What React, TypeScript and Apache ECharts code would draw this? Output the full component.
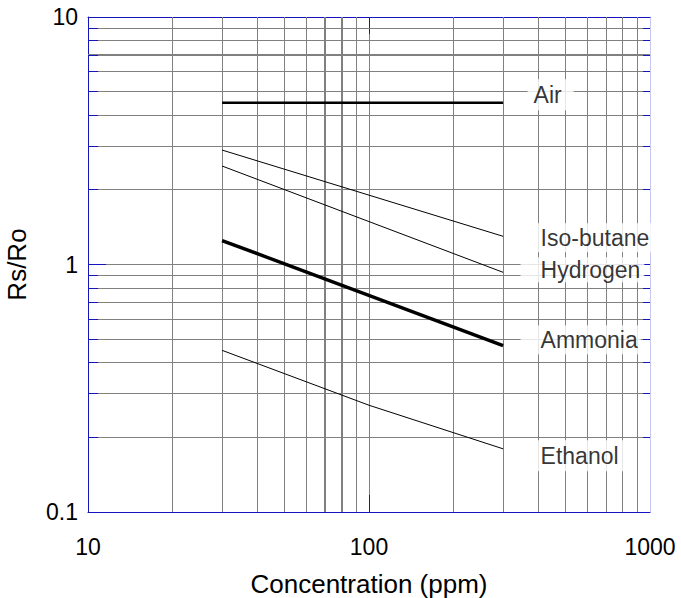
import React, { useEffect, useRef } from 'react';
import * as echarts from 'echarts';

// ---- data ----
const concentration = [30, 300];
const airValues = [4.5, 4.5];
const isoButaneValues = [2.9, 1.3];
const hydrogenValues = [2.5, 0.93];
const ammoniaValues = [1.25, 0.47];
const ethanolConcentration = [30, 100, 300];
const ethanolValues = [0.45, 0.27, 0.18];

const xRange = [10, 1000];
const yRange = [0.1, 10];
const xInnerMajor = [100];
const xMinor = [20, 30, 40, 50, 60, 70, 80, 90, 200, 300, 400, 500, 600, 700, 800, 900];
const yInnerMajor = [1];
const yMinor = [0.2, 0.3, 0.4, 0.5, 0.6, 0.7, 0.8, 0.9, 2, 3, 4, 5, 6, 7, 8, 9];
const heavyX = [70, 80];
const heavyY = [7];

const FONT = 'Liberation Sans, Arial, sans-serif';
const GRID = '#808080';
const BLUE = '#1414c0';

const fmt = (v: number) => String(parseFloat(Number(v).toPrecision(6)));

function crisp(p: number, w: number) {
  return w % 2 === 1 ? Math.round(p - 0.5) + 0.5 : Math.round(p);
}

function vGrid(tickLen: number) {
  return (params: any, api: any) => {
    const v = api.value(0);
    const px = api.coord([v, yRange[0]])[0];
    const cs = params.coordSys;
    const w = heavyX.includes(v) ? 2 : 1;
    const x = crisp(px, w);
    const children: any[] = [
      { type: 'line', shape: { x1: x, y1: cs.y, x2: x, y2: cs.y + cs.height }, style: { stroke: GRID, lineWidth: w, fill: null } },
    ];
    if (tickLen > 0) {
      children.push({ type: 'line', shape: { x1: x, y1: cs.y + cs.height, x2: x, y2: cs.y + cs.height - tickLen }, style: { stroke: BLUE, lineWidth: 1, fill: null } });
      children.push({ type: 'line', shape: { x1: x, y1: cs.y, x2: x, y2: cs.y + tickLen }, style: { stroke: BLUE, lineWidth: 1, fill: null } });
    }
    return { type: 'group', children };
  };
}

function hGrid(leftLen: number, rightLen: number) {
  return (params: any, api: any) => {
    const v = api.value(1);
    const py = api.coord([xRange[0], v])[1];
    const cs = params.coordSys;
    const w = heavyY.some((h) => Math.abs(h - v) < 1e-9) ? 2 : 1;
    const y = crisp(py, w);
    const yt = crisp(py, 1);
    return {
      type: 'group',
      children: [
        { type: 'line', shape: { x1: cs.x, y1: y, x2: cs.x + cs.width, y2: y }, style: { stroke: GRID, lineWidth: w, fill: null } },
        { type: 'line', shape: { x1: cs.x, y1: yt, x2: cs.x + leftLen, y2: yt }, style: { stroke: BLUE, lineWidth: 1, fill: null } },
        { type: 'line', shape: { x1: cs.x + cs.width - rightLen, y1: yt, x2: cs.x + cs.width, y2: yt }, style: { stroke: BLUE, lineWidth: 1, fill: null } },
      ],
    };
  };
}

const pair = (xs: number[], ys: number[]) => xs.map((x, i) => [x, ys[i]]);
const last = (a: number[]) => a[a.length - 1];

export default function App() {
  const ref = useRef<HTMLDivElement>(null);
  useEffect(() => {
    if (!ref.current) return;
    const chart = echarts.init(ref.current, null, { renderer: 'svg' });
    const axisCommon = {
      type: 'log' as const,
      logBase: 10,
      splitLine: { show: false },
      axisTick: { show: false },
      minorTick: { show: false },
      minorSplitLine: { show: false },
    };
    chart.setOption({
      animation: false,
      backgroundColor: '#fff',
      textStyle: { fontFamily: FONT },
      grid: { left: 88, top: 17, right: 31, bottom: 86, containLabel: false, outerBoundsMode: 'none' },
      xAxis: [
        {
          ...axisCommon,
          min: xRange[0],
          max: xRange[1],
          position: 'bottom',
          axisLine: { show: true, lineStyle: { color: BLUE, width: 1 } },
          axisLabel: { show: true, margin: 23, fontSize: 23, color: '#000', fontFamily: FONT, formatter: fmt },
          name: 'Concentration (ppm)',
          nameLocation: 'middle',
          nameGap: 59,
          nameTextStyle: { fontSize: 26, color: '#000', fontFamily: FONT },
        },
        {
          ...axisCommon,
          min: xRange[0],
          max: xRange[1],
          position: 'top',
          axisLine: { show: true, lineStyle: { color: BLUE, width: 1 } },
          axisLabel: { show: false },
        },
      ],
      yAxis: [
        {
          ...axisCommon,
          min: yRange[0],
          max: yRange[1],
          position: 'left',
          axisLine: { show: true, lineStyle: { color: BLUE, width: 1 } },
          axisLabel: { show: true, margin: 10, fontSize: 23, color: '#000', fontFamily: FONT, formatter: fmt },
          name: 'Rs/Ro',
          nameLocation: 'middle',
          nameGap: 58,
          nameTextStyle: { fontSize: 26, color: '#000', fontFamily: FONT },
        },
        {
          ...axisCommon,
          min: yRange[0],
          max: yRange[1],
          position: 'right',
          axisLine: { show: true, lineStyle: { color: '#c8c8f4', width: 1 } },
          axisLabel: { show: false },
        },
      ],
      series: [
        { type: 'custom', z: 1, silent: true, renderItem: vGrid(0), data: xMinor.map((v) => [v, yRange[0]]) },
        { type: 'custom', z: 1, silent: true, renderItem: vGrid(17), data: xInnerMajor.map((v) => [v, yRange[0]]) },
        { type: 'custom', z: 1, silent: true, renderItem: hGrid(10, 7), data: yMinor.map((v) => [xRange[0], v]) },
        { type: 'custom', z: 1, silent: true, renderItem: hGrid(18, 16), data: yInnerMajor.map((v) => [xRange[0], v]) },
        { name: 'Air', type: 'line', z: 3, silent: true, showSymbol: false, data: pair(concentration, airValues), lineStyle: { color: '#000', width: 2.5 } },
        { name: 'Iso-butane', type: 'line', z: 3, silent: true, showSymbol: false, data: pair(concentration, isoButaneValues), lineStyle: { color: '#000', width: 1 } },
        { name: 'Hydrogen', type: 'line', z: 3, silent: true, showSymbol: false, data: pair(concentration, hydrogenValues), lineStyle: { color: '#000', width: 1 } },
        { name: 'Ammonia', type: 'line', z: 3, silent: true, showSymbol: false, data: pair(concentration, ammoniaValues), lineStyle: { color: '#000', width: 3.5 } },
        { name: 'Ethanol', type: 'line', z: 3, silent: true, showSymbol: false, data: pair(ethanolConcentration, ethanolValues), lineStyle: { color: '#000', width: 1 } },
        {
          type: 'scatter',
          z: 5,
          silent: true,
          symbol: 'circle',
          symbolSize: 1,
          itemStyle: { color: 'rgba(0,0,0,0)' },
          label: {
            show: true,
            position: 'right',
            distance: 0,
            formatter: '{b}',
            fontSize: 23,
            color: '#000',
            fontFamily: FONT,
            backgroundColor: '#fff',
          },
          data: [
            { name: 'Air', value: [last(concentration), last(airValues)], label: { offset: [24, -8], padding: [4, 12, 4, 6] } },
            { name: 'Iso-butane', value: [last(concentration), last(isoButaneValues)], label: { offset: [17, 1.5], padding: [3, 3, 3, 20] } },
            { name: 'Hydrogen', value: [last(concentration), last(hydrogenValues)], label: { offset: [17, -2.5], padding: [1, 4, 1, 20] } },
            { name: 'Ammonia', value: [last(concentration), last(ammoniaValues)], label: { offset: [17, -6], padding: [3, 3, 3, 20] } },
            { name: 'Ethanol', value: [last(ethanolConcentration), last(ethanolValues)], label: { offset: [17, 7], padding: [4, 8, 4, 20] } },
          ],
        },
      ],
      graphic: [
        { type: 'rect', z: 100, silent: true, shape: { x: 651, y: 215, width: 30, height: 45 }, style: { fill: '#fff' } },
      ],
    });
    return () => chart.dispose();
  }, []);
  return <div ref={ref} style={{ position: 'fixed', left: 0, top: 0, width: 681, height: 598 }} />;
}
